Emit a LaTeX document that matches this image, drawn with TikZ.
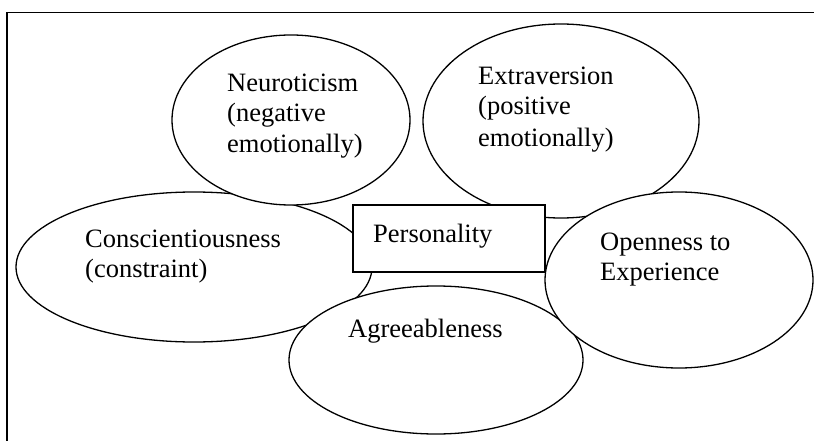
\documentclass[tikz,border=0pt]{standalone}
\usepackage{fontspec}
\setmainfont{Liberation Serif}
\usetikzlibrary{shapes.geometric}
\begin{document}
\begin{tikzpicture}[x=1pt,y=-1pt,
  oval/.style={ellipse, draw, fill=white, line width=1.3pt, inner sep=0pt},
  box/.style={rectangle, draw, fill=white, line width=1.3pt, inner sep=0pt},
  lbl/.style={anchor=base west, inner sep=0pt, font=\fontsize{26.5}{30.5}\selectfont}]
\useasboundingbox (0,0) rectangle (814,441);
\coordinate (fr1) at (814,12.5);
\coordinate (fr2) at (7,12.5);
\coordinate (fr3) at (7,441);
\draw[line width=1.7pt] (fr1) -- (fr2) -- (fr3);
\node[oval, minimum width=356pt, minimum height=150pt] (consc) at (194,267) {};
\node[oval, minimum width=238pt, minimum height=170pt] (neuro) at (291,120) {};
\node[oval, minimum width=276pt, minimum height=194pt] (extra) at (561,121) {};
\node[oval, minimum width=294pt, minimum height=148pt] (agree) at (436,360) {};
\node[box, minimum width=192pt, minimum height=67pt] (pers) at (449,238.5) {};
\node[oval, minimum width=268pt, minimum height=176pt] (open) at (679,280) {};
\node[lbl] (t1a) at (227,92) {Neuroticism};
\node[lbl] (t1b) at (227,122) {(negative};
\node[lbl] (t1c) at (227,153) {emotionally)};
\node[lbl] (t2a) at (478,85) {Extraversion};
\node[lbl] (t2b) at (478,115) {(positive};
\node[lbl] (t2c) at (478,147) {emotionally)};
\node[lbl] (t3a) at (85,247) {Conscientiousness};
\node[lbl] (t3b) at (85,277) {(constraint)};
\node[lbl] (t4) at (373,242) {Personality};
\node[lbl] (t5) at (348,337) {Agreeableness};
\node[lbl] (t6a) at (600,250) {Openness to};
\node[lbl] (t6b) at (600,280) {Experience};
\end{tikzpicture}
\end{document}
